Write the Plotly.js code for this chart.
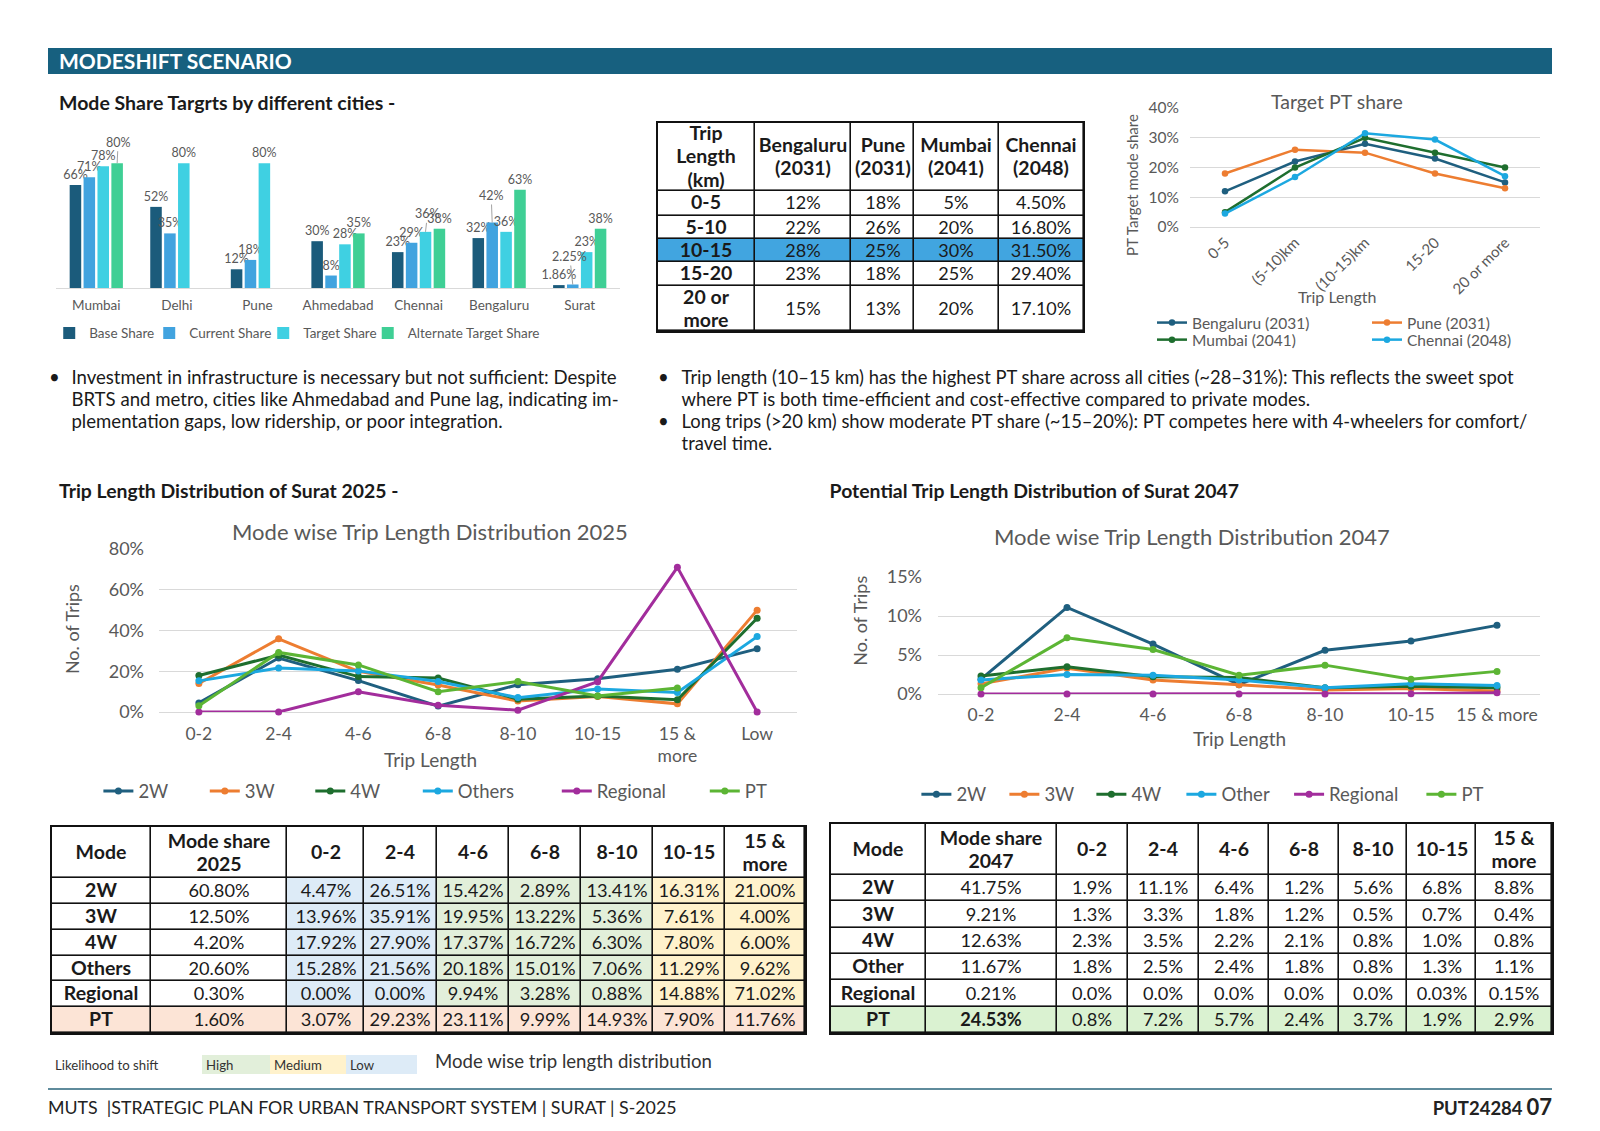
<!DOCTYPE html>
<html><head><meta charset="utf-8">
<script src="https://cdn.plot.ly/plotly-3.0.1.min.js"></script>
<style>
html,body{margin:0;padding:0;background:#fff}
body{width:1600px;height:1131px;position:relative;overflow:hidden;font-family:Lato,"Open Sans",sans-serif;color:#1a1a1a}
.a{position:absolute;white-space:nowrap}
.p{position:absolute}
</style></head><body>
<div class="a" style="left:48px;top:48px;width:1504px;height:25.5px;background:#17607f"></div>
<div class="a" style="left:59px;top:48px;line-height:25.5px;font-size:21px;font-weight:700;color:#fff">MODESHIFT SCENARIO</div>
<div class="a" style="left:59px;top:91px;line-height:24px;font-size:19.5px;font-weight:700">Mode Share Targrts by different cities -</div>

<div class="a" style="left:49px;top:365.5px;font-size:18.6px;line-height:22px">•</div>
<div class="a" style="left:71.4px;top:365.5px;font-size:18.6px;line-height:22px">Investment in infrastructure is necessary but not sufficient: Despite<br>BRTS and metro, cities like Ahmedabad and Pune lag, indicating im-<br>plementation gaps, low ridership, or poor integration.</div>
<div class="a" style="left:658px;top:365.5px;font-size:18.6px;line-height:22px">•<br><br>•</div>
<div class="a" style="left:681.6px;top:365.5px;font-size:18.4px;line-height:22px">Trip length (10–15 km) has the highest PT share across all cities (~28–31%): This reflects the sweet spot<br>where PT is both time-efficient and cost-effective compared to private modes.<br>Long trips (&gt;20 km) show moderate PT share (~15–20%): PT competes here with 4-wheelers for comfort/<br>travel time.</div>

<div class="a" style="left:59px;top:479px;line-height:24px;font-size:19.4px;font-weight:700">Trip Length Distribution of Surat 2025 -</div>
<div class="a" style="left:829.6px;top:479px;line-height:24px;font-size:19.4px;font-weight:700">Potential Trip Length Distribution of Surat 2047</div>

<div id="bar" class="p" style="left:0px;top:110px;width:640px;height:245px"></div>
<div id="tbl31" class="p" style="left:655.5px;top:121px;width:429.5px;height:212.4px"></div>
<div id="pt" class="p" style="left:1090px;top:85px;width:462px;height:265px"></div>
<div id="l25" class="p" style="left:50px;top:505px;width:760px;height:305px"></div>
<div id="l47" class="p" style="left:810px;top:505px;width:742px;height:305px"></div>
<div id="tbl25" class="p" style="left:50px;top:825px;width:757px;height:210px"></div>
<div id="tbl47" class="p" style="left:829px;top:822px;width:725px;height:212.5px"></div>
<div id="lik" class="p" style="left:49px;top:1053px;width:366px;height:19px"></div>

<div class="a" style="left:435px;top:1049px;line-height:24px;font-size:18.6px;color:#333">Mode wise trip length distribution</div>
<div class="a" style="left:48px;top:1087.5px;width:1504px;height:2px;background:#5f8b9c"></div>
<div class="a" style="left:48px;top:1096px;line-height:22px;font-size:17.8px;color:#222">MUTS &nbsp;|STRATEGIC PLAN FOR URBAN TRANSPORT SYSTEM | SURAT | S-2025</div>
<div class="a" style="right:48px;top:1094px;line-height:26px;font-weight:700;color:#222"><span style="font-size:18.5px">PUT24284</span>&nbsp;<span style="font-size:22px">07</span></div>

<script>
// ---------------- DATA ----------------
const cities = ['Mumbai','Delhi','Pune','Ahmedabad','Chennai','Bengaluru','Surat'];
const baseShare = [66,52,12,30,23,32,1.86];
const currentShare = [71,35,18,8,29,42,2.25];
const targetShare = [78,80,80,28,36,36,23];
const altTargetShare = [80,null,null,35,38,63,38];

const tripBands = ['0-5','(5-10)km','(10-15)km','15-20','20 or more'];
const tripBandRows = ['0-5','5-10','10-15','15-20','20 or more'];
const bengaluru2031 = [12,22,28,23,15];
const pune2031 = [18,26,25,18,13];
const mumbai2041 = [5,20,30,25,20];
const chennai2048 = [4.5,16.8,31.5,29.4,17.1];

const tripCats = ['0-2','2-4','4-6','6-8','8-10','10-15','15 & more'];
const extraCat2025 = 'Low';

const modes2025 = ['2W','3W','4W','Others','Regional','PT'];
const modeShare2025 = [60.80,12.50,4.20,20.60,0.30,1.60];
const tl25_2W = [4.47,26.51,15.42,2.89,13.41,16.31,21.00];
const tl25_3W = [13.96,35.91,19.95,13.22,5.36,7.61,4.00];
const tl25_4W = [17.92,27.90,17.37,16.72,6.30,7.80,6.00];
const tl25_Others = [15.28,21.56,20.18,15.01,7.06,11.29,9.62];
const tl25_Regional = [0.00,0.00,9.94,3.28,0.88,14.88,71.02];
const tl25_PT = [3.07,29.23,23.11,9.99,14.93,7.90,11.76];
const low2025 = [31,50,46,37,0,null];   // chart-only "Low" point per mode

const modes2047 = ['2W','3W','4W','Other','Regional','PT'];
const modeShare2047 = [41.75,9.21,12.63,11.67,0.21,24.53];
const tl47_2W = [1.9,11.1,6.4,1.2,5.6,6.8,8.8];
const tl47_3W = [1.3,3.3,1.8,1.2,0.5,0.7,0.4];
const tl47_4W = [2.3,3.5,2.2,2.1,0.8,1.0,0.8];
const tl47_Other = [1.8,2.5,2.4,1.8,0.8,1.3,1.1];
const tl47_Regional = [0.0,0.0,0.0,0.0,0.0,0.03,0.15];
const tl47_PT = [0.8,7.2,5.7,2.4,3.7,1.9,2.9];

const likelihoodLabels = ['Likelihood to shift','High','Medium','Low'];

// ---------------- STYLE ----------------
const FONT = 'Lato, "Open Sans", sans-serif';
const GRAY = '#595959';
const GRID = '#d9d9d9';
const CFG = {staticPlot:true, displayModeBar:false};
const modeColors = ['#1f5f7f','#ed7d31','#1e6e2e','#1ca8e0','#a22d9c','#5cb534'];
const cityColors = ['#1f5f7f','#ed7d31','#1e6e2e','#1ca8e0'];
const barColors = ['#1b5b7b','#41a3df','#3fd0e2','#3fcf95'];
function base(o){
  o.margin = Object.assign({autoexpand:false}, o.margin);
  if(o.annotations) o.annotations = o.annotations.map(a=>Object.assign({xanchor:'center',yanchor:'middle',showarrow:false,xref:'paper',yref:'paper'},a));
  return Object.assign({font:{family:FONT,color:GRAY},paper_bgcolor:'rgba(0,0,0,0)',plot_bgcolor:'rgba(0,0,0,0)',hovermode:false},o);
}
const brk = s => s.replace(' & more',' &<br>more');
const pct2 = v => v.toFixed(2)+'%';
const pct47 = v => (Math.round(v*10)/10===v ? v.toFixed(1) : v.toFixed(2))+'%';
const B = s => '<span style="font-size:19.5px"><b>'+s+'</b></span>';

// ---------------- BAR CHART ----------------
const barSeries = [['Base Share',baseShare,55],['Current Share',currentShare,69],['Target Share',targetShare,59.5],['Alternate Target Share',altTargetShare,0]];
// labels drawn with a leader line (series index, city index, offset of label in px)
const leaderLabels = [[3,0,1,-21],[2,4,2,-18],[1,5,-1,-27],[1,6,-3,-28]];
const barGap = 0.31, barPitch = 80.6*(1-barGap)/4;
const isLeader = (si,ci)=>leaderLabels.some(l=>l[0]===si&&l[1]===ci);
Plotly.newPlot('bar', barSeries.map((s,i)=>({
  type:'bar', name:s[0], x:cities, y:s[1], marker:{color:barColors[i]},
  text:s[1].map((v,ci)=>(v==null||isLeader(i,ci))?'':v+'%'), textposition:'outside', constraintext:'none', cliponaxis:false,
  textfont:{size:12.5,color:GRAY}, legendwidth:s[2]
})), Object.assign(base({
  width:640,height:245,margin:{l:55.6,r:20.1,t:22.2,b:67.2},
  barmode:'group',bargap:barGap,bargroupgap:0.17,
  xaxis:{type:'category',showline:true,linecolor:GRID,linewidth:1,ticks:'',tickfont:{size:13.5,color:GRAY},ticklabelstandoff:5,showgrid:false},
  yaxis:{range:[0,100],visible:false},
  showlegend:true,
  legend:{orientation:'h',x:-0.012,xanchor:'left',y:-0.29,yanchor:'middle',font:{size:13.5,color:GRAY},traceorder:'normal'}
}),{annotations:leaderLabels.map(l=>{
  const v = barSeries[l[0]][1][l[1]];
  return {x:cities[l[1]],y:v,xref:'x',yref:'y',text:v+'%',showarrow:true,arrowhead:0,arrowwidth:0.8,arrowcolor:'#8c8c8c',
    ax:l[2],ay:l[3],xshift:(l[0]-1.5)*barPitch,standoff:0,font:{size:12.5,color:GRAY}};
})}), CFG);

// ---------------- TARGET PT SHARE ----------------
const ptSeries = [['Bengaluru (2031)',bengaluru2031,'legend'],['Pune (2031)',pune2031,'legend'],['Mumbai (2041)',mumbai2041,'legend2'],['Chennai (2048)',chennai2048,'legend2']];
Plotly.newPlot('pt', ptSeries.map((s,i)=>({
  type:'scatter',mode:'lines+markers',name:s[0],x:tripBands,y:s[1],legend:s[2],
  line:{color:cityColors[i],width:2.5},marker:{color:cityColors[i],size:6.5},cliponaxis:false,
  legendwidth:(i%2===0)?170:0
})), base({
  width:462,height:265,margin:{l:100,r:12,t:23,b:123},
  xaxis:{type:'category',range:[-0.5,4.5],tickangle:-45,ticks:'',showgrid:false,zeroline:false,showline:false,tickfont:{size:15,color:GRAY},ticklabelstandoff:3},
  yaxis:{range:[0,40],dtick:10,ticksuffix:'%',gridcolor:GRID,zeroline:true,zerolinecolor:GRID,showline:false,ticks:'',tickfont:{size:15.5,color:GRAY},ticklabelstandoff:10},
  showlegend:true,
  legend:{orientation:'h',x:-0.1086,xanchor:'left',y:-0.8067,yanchor:'middle',font:{size:15.5,color:GRAY}},
  legend2:{orientation:'h',x:-0.1086,xanchor:'left',y:-0.95,yanchor:'middle',font:{size:15.5,color:GRAY}},
  annotations:[
    {text:'Target PT share',x:0.42,y:1.0588,font:{size:19.5,color:GRAY}},
    {text:'PT Target mode share',x:-0.1657,y:0.353,textangle:-90,font:{size:15,color:GRAY}},
    {text:'Trip Length',x:0.42,y:-0.58,font:{size:16,color:GRAY}}
  ]
}), CFG);

// ---------------- 2025 LINE CHART ----------------
const tl25 = [tl25_2W,tl25_3W,tl25_4W,tl25_Others,tl25_Regional,tl25_PT];
const lw25 = [61.4,60.5,62.5,94,103,0];
const x25 = tripCats.map(brk).concat([extraCat2025]);
Plotly.newPlot('l25', modes2025.map((m,i)=>({
  type:'scatter',mode:'lines+markers',name:m,x:x25,y:tl25[i].concat([low2025[i]]),
  line:{color:modeColors[i],width:3},marker:{color:modeColors[i],size:7},cliponaxis:false,legendwidth:lw25[i]
})), base({
  width:760,height:305,margin:{l:109.2,r:13,t:44,b:97.8},
  xaxis:{type:'category',range:[-0.5,7.5],ticks:'',showgrid:false,zeroline:false,showline:false,tickfont:{size:17.5,color:GRAY},ticklabelstandoff:9},
  yaxis:{range:[0,80],dtick:20,ticksuffix:'%',gridcolor:GRID,zeroline:true,zerolinecolor:GRID,showline:false,ticks:'',tickfont:{size:18,color:GRAY},ticklabelstandoff:14},
  showlegend:true,
  legend:{orientation:'h',x:-0.095,xanchor:'left',y:-0.4877,yanchor:'middle',font:{size:18.5,color:GRAY}},
  annotations:[
    {text:'Mode wise Trip Length Distribution 2025',x:0.424,y:1.1066,font:{size:22,color:GRAY}},
    {text:'No. of Trips',x:-0.136,y:0.51,textangle:-90,font:{size:18,color:GRAY}},
    {text:'Trip Length',x:0.4255,y:-0.29,font:{size:19,color:GRAY}}
  ]
}), CFG);

// ---------------- 2047 LINE CHART ----------------
const tl47 = [tl47_2W,tl47_3W,tl47_4W,tl47_Other,tl47_Regional,tl47_PT];
const lw47 = [43,42,45,62.7,87.3,0];
Plotly.newPlot('l47', modes2047.map((m,i)=>({
  type:'scatter',mode:'lines+markers',name:m,x:tripCats,y:tl47[i],
  line:{color:modeColors[i],width:3},marker:{color:modeColors[i],size:7},cliponaxis:false,legendwidth:lw47[i]
})), base({
  width:742,height:305,margin:{l:127.6,r:12,t:71.5,b:116.1},
  xaxis:{type:'category',range:[-0.5,6.5],ticks:'',showgrid:false,zeroline:false,showline:false,tickfont:{size:17.5,color:GRAY},ticklabelstandoff:8},
  yaxis:{range:[0,15],dtick:5,ticksuffix:'%',gridcolor:GRID,zeroline:true,zerolinecolor:GRID,showline:false,ticks:'',tickfont:{size:18,color:GRAY},ticklabelstandoff:15},
  showlegend:true,
  legend:{orientation:'h',x:-0.0359,xanchor:'left',y:-0.861,yanchor:'middle',font:{size:18.5,color:GRAY}},
  annotations:[
    {text:'Mode wise Trip Length Distribution 2047',x:0.422,y:1.3475,font:{size:22,color:GRAY}},
    {text:'No. of Trips',x:-0.1288,y:0.63,textangle:-90,font:{size:18,color:GRAY}},
    {text:'Trip Length',x:0.5,y:-0.3825,font:{size:19,color:GRAY}}
  ]
}), CFG);

// ---------------- TABLES (heatmap grids) ----------------
function grid(id, colEdges, rowEdges, text, codes, palette, fsize, gap){
  const W = colEdges[colEdges.length-1], H = rowEdges[rowEdges.length-1];
  const n = palette.length;
  const cs = palette.map((c,i)=>[i/(n-1),c]);
  const ax = {showline:gap>0,mirror:true,linecolor:'#111',linewidth:1.6,showgrid:false,zeroline:false,showticklabels:false,ticks:'',fixedrange:true};
  Plotly.newPlot(id,[{
    type:'heatmap',x:colEdges,y:rowEdges,z:codes,text:text,texttemplate:'%{text}',
    textfont:{family:FONT,size:fsize,color:'#1a1a1a'},colorscale:cs,zmin:0,zmax:n-1,showscale:false,
    xgap:gap,ygap:gap,hoverinfo:'skip'
  }],{
    width:W+4,height:H+4,margin:{l:2,r:2,t:2,b:2,autoexpand:false},
    xaxis:Object.assign({range:[0,W]},ax),yaxis:Object.assign({range:[H,0]},ax),
    paper_bgcolor:'rgba(0,0,0,0)',plot_bgcolor:gap>0?'#111':'rgba(0,0,0,0)',hovermode:false,font:{family:FONT}
  },CFG);
}

// 2031 targets table
(function(){
  const cols = [0,96.5,193,255.5,340.5,425.5];
  const rows = [0,68.4,92.7,116.7,139.4,163.4,208.4];
  const hdr = ['Trip<br>Length<br>(km)','Bengaluru<br>(2031)','Pune<br>(2031)','Mumbai<br>(2041)','Chennai<br>(2048)'].map(B);
  const text=[hdr], codes=[[0,0,0,0,0]];
  tripBandRows.forEach((b,r)=>{
    text.push([B(b.replace(' or ',' or<br>')), bengaluru2031[r]+'%', pune2031[r]+'%', mumbai2041[r]+'%', chennai2048[r].toFixed(2)+'%']);
    const hl = b==='10-15'?1:0; codes.push([hl,hl,hl,hl,hl]);
  });
  grid('tbl31',cols,rows,text,codes,['#ffffff','#41a5e0'],18,1.6);
})();

// 2025 table
(function(){
  const cols = [0,98.5,235.3,311.8,384.5,456.7,529.3,601.2,673,753];
  const rows = [0,51.3,77.1,102.9,128.7,154.4,180.2,206];
  const band = [0,0,1,1,2,2,2,3,3];
  const text = [['Mode','Mode share<br>2025'].concat(tripCats.map(brk)).map(B)];
  const codes = [band.map(()=>0)];
  modes2025.forEach((m,r)=>{
    text.push([B(m),pct2(modeShare2025[r])].concat(tl25[r].map(pct2)));
    codes.push(m==='PT'?band.map(()=>4):band);
  });
  grid('tbl25',cols,rows,text,codes,['#ffffff','#ddebf7','#e2efda','#fff2cc','#fce4d6'],18.2,1.6);
})();

// 2047 table
(function(){
  const cols = [0,94.5,225.5,297,367.5,437.5,507.5,576,645,721];
  const rows = [0,51,77.25,103.5,129.75,156,182.25,208.5];
  const text = [['Mode','Mode share<br>2047'].concat(tripCats.map(brk)).map(B)];
  const codes = [cols.slice(1).map(()=>0)];
  modes2047.forEach((m,r)=>{
    const sh = pct2(modeShare2047[r]);
    text.push([B(m), m==='PT'?'<b>'+sh+'</b>':sh].concat(tl47[r].map(pct47)));
    codes.push(cols.slice(1).map(()=>m==='PT'?1:0));
  });
  grid('tbl47',cols,rows,text,codes,['#ffffff','#daf2d1'],18.2,1.6);
})();

// likelihood key
(function(){
  const cols = [0,151,219,295,366];
  const rows = [0,19];
  grid('lik',cols,rows,[likelihoodLabels.map(()=>'')],[[0,1,2,3]],['#ffffff','#e2efda','#fff2cc','#ddebf7'],12,0);
  Plotly.relayout('lik',{annotations:likelihoodLabels.map((t,i)=>({text:t,x:cols[i]+2,y:9.5,xref:'x',yref:'y',xanchor:'left',yanchor:'middle',showarrow:false,font:{family:FONT,size:13.2,color:'#333'}}))});
})();
</script>
</body></html>
